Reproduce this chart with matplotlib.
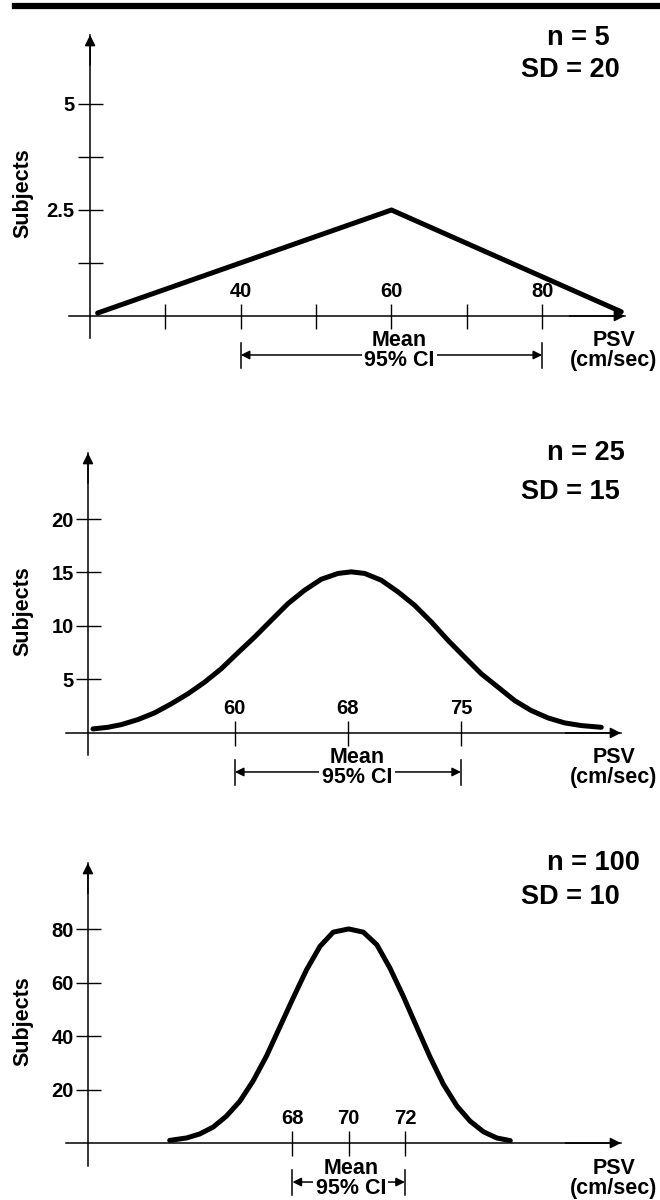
import matplotlib
matplotlib.use("Agg")
import matplotlib.pyplot as plt

W, H = 660, 1200

# panel 1: n = 5, SD = 20
p1_psv = [21, 60, 90.5]
p1_subjects = [0.07, 2.5, 0.1]
p1_xticks = [40, 60, 80]
p1_xticklabels = ["40", "60", "80"]
p1_xminor = [30, 50, 70]
p1_yticks = [2.5, 5]
p1_yticklabels = ["2.5", "5"]
p1_yminor = [1.25, 3.75]
p1_ci = (40, 60, 80)

# panel 2: n = 25, SD = 15 (CI ticks are drawn symmetric about the mean)
p2_psv = [50.58, 51.57, 52.46, 53.56, 54.67, 55.77, 56.88, 57.99, 59.09, 60.2, 61.31, 62.41,
          63.52, 64.62, 65.73, 66.84, 67.72, 68.61, 69.71, 70.82, 71.92, 73.03, 74.14, 75.24,
          76.35, 77.46, 78.56, 79.67, 80.77, 81.88, 82.99, 84.31]
p2_subjects = [0.38, 0.53, 0.78, 1.25, 1.88, 2.72, 3.66, 4.75, 6.0, 7.5, 8.97, 10.53,
               12.09, 13.34, 14.37, 14.91, 15.06, 14.91, 14.28, 13.19, 11.94, 10.38, 8.66, 7.09,
               5.53, 4.28, 3.03, 2.09, 1.41, 0.94, 0.69, 0.53]
p2_xticks = [60, 67.5, 75]
p2_xticklabels = ["60", "68", "75"]
p2_yticks = [5, 10, 15, 20]
p2_yticklabels = ["5", "10", "15", "20"]
p2_ci = (60, 67.5, 75)

# panel 3: n = 100, SD = 10
p3_psv = [63.63, 64.23, 64.70, 65.18, 65.65, 66.13, 66.60, 67.08, 67.55, 68.03, 68.50, 68.98,
          69.45, 70.0, 70.52, 71.0, 71.47, 71.95, 72.42, 72.90, 73.37, 73.85, 74.32, 74.80,
          75.27, 75.75]
p3_subjects = [1.0, 1.9, 3.4, 6.0, 10.1, 15.7, 23.3, 32.7, 43.5, 54.5, 64.9, 73.7,
               79.0, 80.2, 79.0, 74.3, 65.5, 54.8, 43.5, 32.1, 22.0, 13.9, 8.2, 4.2,
               1.9, 0.9]
p3_xticks = [68, 70, 72]
p3_xticklabels = ["68", "70", "72"]
p3_yticks = [20, 40, 60, 80]
p3_yticklabels = ["20", "40", "60", "80"]
p3_ci = (68, 70, 72)

plt.rcParams["font.family"] = ["Liberation Sans", "DejaVu Sans"]
plt.rcParams["font.weight"] = "bold"

fig = plt.figure(figsize=(W / 100, H / 100), dpi=100)
fig.patch.set_facecolor("white")

# rule across the top of the page
fig.add_artist(plt.Line2D([15 / W, 1], [1 - 6 / H] * 2, color="black", lw=4.5))


def below(ax, x, px, dx=0):
    # data point px pixels under the x axis at x (dx pixels to the right)
    x_d, y_d = ax.transData.transform((x, 0))
    return ax.transData.inverted().transform((x_d + dx, y_d - px))


def panel(box, x0, xlim, ylim, x, y, xticks, xticklabels, yticks, yticklabels,
          xminor, yminor, ci, n_txt, sd_txt, n_y, sd_y, ypad, text_dx):
    left, top, right, bottom = box
    ax = fig.add_axes([left / W, 1 - bottom / H, (right - left) / W, (bottom - top) / H])
    ax.set_xlim(xlim)
    ax.set_ylim(ylim)
    ax.patch.set_alpha(0)
    ax.spines["bottom"].set_visible(False)
    ax.spines["right"].set_visible(False)
    ax.spines["left"].set_position(("data", x0))
    ax.spines["top"].set_position(("data", 0))
    ax.spines["left"].set_linewidth(1.1)
    ax.spines["top"].set_linewidth(1.1)
    ax.xaxis.set_ticks_position("top")
    ax.yaxis.set_ticks_position("left")
    ax.set_xticks(xticks, xticklabels)
    ax.set_xticks(xminor, minor=True)
    ax.set_yticks(yticks, yticklabels)
    ax.set_yticks(yminor, minor=True)
    ax.tick_params(which="both", direction="inout", length=18, width=1, labelsize=14.5)
    ax.tick_params(axis="x", pad=2)
    ax.tick_params(axis="y", pad=ypad)

    # axis arrows
    arr = dict(arrowstyle="-|>", color="black", lw=1.1, mutation_scale=16, shrinkA=0, shrinkB=0)
    ax.annotate("", xy=(x0, 1), xycoords=ax.get_xaxis_transform(),
                xytext=(x0, 0.9), textcoords=ax.get_xaxis_transform(), arrowprops=arr)
    ax.annotate("", xy=(1, 0), xycoords=ax.get_yaxis_transform(),
                xytext=(0.9, 0), textcoords=ax.get_yaxis_transform(), arrowprops=arr)

    ax.plot(x, y, color="black", lw=3.6, solid_capstyle="round",
            solid_joinstyle="round", clip_on=False)

    # 95% CI bracket below the axis
    lo, mean, hi = ci
    y_bar1 = below(ax, lo, 27)[1]
    y_bar2 = below(ax, lo, 52)[1]
    y_arr = below(ax, lo, 39)[1]
    for xb in (lo, hi):
        ax.plot([xb, xb], [y_bar1, y_bar2], color="black", lw=1.1, clip_on=False)
    carr = dict(arrowstyle="-|>", color="black", lw=1.1, mutation_scale=13, shrinkA=0, shrinkB=0)
    for xb in (lo, hi):
        ax.annotate("", xy=(xb, y_arr), xytext=(mean, y_arr), arrowprops=carr,
                    annotation_clip=False)
    ax.text(*below(ax, mean, 25, text_dx), "Mean", ha="center", va="center", fontsize=15.5)
    ax.text(*below(ax, mean, 45, text_dx), "95% CI", ha="center", va="center", fontsize=15.5,
            bbox=dict(boxstyle="square,pad=0.12", fc="white", ec="none"))

    # right-hand labels in pixel positions
    y0 = ax.transData.transform((0, 0))[1]
    fig.text(614 / W, (y0 - 25) / H, "PSV", ha="center", va="center", fontsize=15.5)
    fig.text(614 / W, (y0 - 45) / H, "(cm/sec)", ha="center", va="center", fontsize=15.5)
    fig.text(547 / W, 1 - n_y / H, n_txt, ha="left", va="center", fontsize=19.5)
    fig.text(521 / W, 1 - sd_y / H, sd_txt, ha="left", va="center", fontsize=19.5)
    fig.text(23 / W, 1 - (top + bottom) / 2 / H - 7 / H, "Subjects", rotation=90,
             ha="center", va="center", fontsize=15.5)
    return ax


panel((69, 35, 625, 338), 20, (17.2, 91), (-0.519, 6.627), p1_psv, p1_subjects,
      p1_xticks, p1_xticklabels, p1_yticks, p1_yticklabels, p1_xminor, p1_yminor,
      p1_ci, "n = 5", "SD = 20", 38, 70, 2, 8)
panel((66, 453, 621, 755), 50.25, (48.79, 85.62), (-2.06, 26.17), p2_psv, p2_subjects,
      p2_xticks, p2_xticklabels, p2_yticks, p2_yticklabels, [], [],
      p2_ci, "n = 25", "SD = 15", 453, 492, 1, 9)
panel((66, 863, 621, 1166), 60.72, (59.94, 79.69), (-8.6, 104.9), p3_psv, p3_subjects,
      p3_xticks, p3_xticklabels, p3_yticks, p3_yticklabels, [], [],
      p3_ci, "n = 100", "SD = 10", 863, 897, 1, 2)

fig.savefig("out.png", dpi=100)
